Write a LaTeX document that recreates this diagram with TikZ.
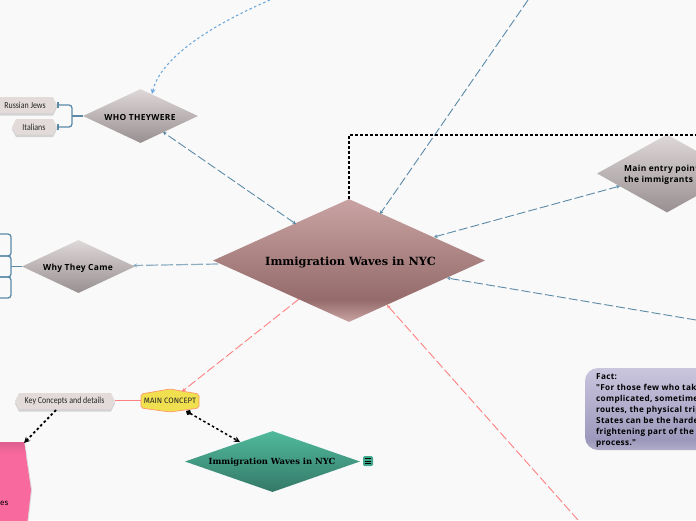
\documentclass[tikz,border=0pt]{standalone}
\usepackage{fontspec}
\setmainfont{Fira Sans}
\newfontfamily\slabfont{DejaVu Serif}
\newfontfamily\narrowfont{Carlito}[FakeStretch=0.86]
\newfontfamily\roundfont{Open Sans}[LetterSpace=4]
\usetikzlibrary{shapes.geometric,arrows.meta,shadows,calc}
\definecolor{bgc}{HTML}{F9F9F9}
\definecolor{linkblue}{HTML}{5B8AA8}
\definecolor{linkred}{HTML}{FF8080}
\definecolor{skyline}{HTML}{6FA8DC}
\definecolor{tagfill}{HTML}{E3DADA}
\definecolor{graytop}{HTML}{DFD8D8}
\definecolor{graybot}{HTML}{989090}
\definecolor{mainlt}{HTML}{C9A3A3}
\definecolor{maindk}{HTML}{956B6B}
\definecolor{factlt}{HTML}{CAC6DE}
\definecolor{factdk}{HTML}{9C98BC}
\definecolor{factbt}{HTML}{B0ACC8}
\pgfdeclareverticalshading{mainsh}{100bp}{color(0bp)=(mainlt);color(25bp)=(mainlt);color(34bp)=(maindk);color(75bp)=(mainlt);color(100bp)=(mainlt)}
\pgfdeclareverticalshading{factsh}{100bp}{color(0bp)=(factbt);color(25bp)=(factbt);color(31bp)=(factdk);color(75bp)=(factlt);color(100bp)=(factlt)}
\tikzset{
  x=1pt,y=-1pt,
  graydia/.style={diamond,aspect=2.1,inner sep=0pt,top color=graytop,bottom color=graybot},
  difont/.style={font=\roundfont\bfseries\fontsize{8.4}{11}\selectfont,inner sep=0pt},
  bluelink/.style={draw=linkblue,line width=.9pt,dash pattern=on 9pt off 3pt,-{Stealth[length=3.5pt,width=3.5pt]}},
  redlink/.style={draw=linkred,line width=.9pt,dash pattern=on 9pt off 3pt,-{Stealth[length=3.5pt,width=3.5pt]}},
  blackdot/.style={draw=black,line width=1.8pt,dash pattern=on 2.5pt off 2.5pt},
  bracket/.style={draw=linkblue,line width=1.3pt,rounded corners=3pt},
  tagshadow/.style={drop shadow={shadow xshift=0pt,shadow yshift=-2.5pt,fill=black,opacity=.15}},
  taglabel/.style={font=\narrowfont\fontsize{9.2}{11}\selectfont,text=black!85,inner sep=0pt},
}
\begin{document}
\begin{tikzpicture}
\useasboundingbox (0,0) rectangle (696,520);
\fill[bgc] (0,0) rectangle (696,520);
\clip (0,0) rectangle (696,520);

% free ends
\coordinate (skystart) at (270,0);
\coordinate (skyend) at (152,94);
\coordinate (topend) at (528,0);
\coordinate (rightend) at (696,320);
\coordinate (redend) at (578,520);
\coordinate (dotend) at (696,135);
\coordinate (dotcorner) at (349,135);
\coordinate (mainnw) at (296,224);
\coordinate (mainne) at (380,214);
\coordinate (mainene) at (434,237);
\coordinate (mainese) at (447,278);
\coordinate (mainsw) at (299,299);
\coordinate (mainse) at (387,305);
\coordinate (mainw) at (218,264);
\coordinate (whose) at (163,132);
\coordinate (whyee) at (133,265.5);
\coordinate (entrysw) at (620,186);

% pink block
\fill[color={rgb,255:red,248;green,105;blue,157},drop shadow={shadow xshift=1pt,shadow yshift=0pt,fill=black,opacity=.12}] (-5,442) -- (24,442) -- (31,490) -- (27,525) -- (-5,525) -- cycle;
\shade[top color={rgb,255:red,222;green,96;blue,144},bottom color={rgb,255:red,248;green,105;blue,157}] (-5,442) -- (24,442) -- (25.7,454) -- (-5,454) -- cycle;
\coordinate (pinktop) at (24,443);
\node[font=\fontsize{8}{10}\selectfont,text=black,inner sep=0pt,anchor=west] (pinktext) at (0,503) {es};

% diamonds
\node[diamond,aspect=2.2,inner sep=0pt,minimum width=272pt,minimum height=123pt,shading=mainsh] (main) at (349,260.5) {};
\node[font=\slabfont\bfseries\fontsize{11.3}{13}\selectfont,inner sep=0pt] (maintext) at (350.5,262) {Immigration Waves in NYC};

\node[graydia,minimum width=115pt,minimum height=54pt] (who) at (140.5,116) {};
\node[difont] (whotext) at (140,117) {WHO THEYWERE};

\node[graydia,minimum width=113pt,minimum height=53pt] (why) at (78.5,266.5) {};
\node[difont] (whytext) at (78,268) {Why They Came};

\node[graydia,aspect=1.8,minimum width=140pt,minimum height=78pt] (entry) at (667,173.5) {};
\node[difont,align=left,anchor=west] (entrytext) at (624,174.5) {Main entry point\\the immigrants};

\node[diamond,aspect=2.8,inner sep=0pt,minimum width=175pt,minimum height=61pt,top color={rgb,255:red,80;green,186;blue,156},bottom color={rgb,255:red,52;green,120;blue,104}] (green) at (272.5,461.5) {};
\coordinate (greennw) at (240,442);
\node[font=\slabfont\bfseries\fontsize{8.4}{10}\selectfont,inner sep=0pt] (greentext) at (272,462) {Immigration Waves in NYC};

% note icon
\node[rounded corners=1.5pt,fill={rgb,255:red,64;green,168;blue,140},minimum size=10pt,inner sep=0pt] (icon) at (368,461) {};
\draw[black,line width=.7pt] (icon.center) ++(-3,-2.5) -- ++(6,0) ++(-6,2.5) -- ++(6,0) ++(-6,2.5) -- ++(6,0);

% main concept
\filldraw[draw=linkred!80!yellow,line width=.7pt,fill={rgb,255:red,240;green,224;blue,80},rounded corners=2pt] (141,394) -- (170,389) -- (199,394) -- (199,408) -- (170,412) -- (141,408) -- cycle;
\coordinate (conceptw) at (141,400.5);
\coordinate (concepte) at (186,411);
\coordinate (conceptn) at (182,391.5);
\node[font=\fontsize{7.8}{9}\selectfont,inner sep=0pt,text=black!85] (concept) at (170,400.5) {MAIN CONCEPT};

% tags
\fill[tagfill,tagshadow] (15,401) -- (19,393) -- (111,393) -- (115,401) -- (111,409) -- (19,409) -- cycle;
\coordinate (keye) at (115,400.5);
\coordinate (keys) at (56,410);
\node[taglabel] (key) at (64.5,401.5) {Key Concepts and details};
\fill[tagfill,tagshadow] (-6,105) -- (-2,97) -- (53,97) -- (57,105) -- (53,113) -- (-2,113) -- cycle;
\node[taglabel] (russian) at (25,105.5) {Russian Jews};
\fill[tagfill,tagshadow] (12,127) -- (16,119) -- (53,119) -- (57,127) -- (53,134.5) -- (16,134.5) -- cycle;
\node[taglabel] (italians) at (34,127.5) {Italians};

% fact
\shade[shading=factsh,rounded corners=13pt] (585,368) rectangle (720,450);
\node[font=\roundfont\bfseries\fontsize{8.2}{11}\selectfont,inner sep=0pt,align=left,anchor=north west] (fact) at (596,373) {Fact:\\"For those few who take\\complicated, sometimes\\routes, the physical trip\\States can be the hardest\\frightening part of the\\process."};

% connectors
\draw[draw=skyline,line width=1.1pt,dash pattern=on 2.5pt off 2.5pt,-{Stealth[length=5pt,width=5pt,open]}] (skystart) .. controls (205,28) and (160,60) .. (skyend);
\draw[bluelink,{Stealth[length=3.5pt,width=3.5pt]}-{Stealth[length=3.5pt,width=3.5pt]}] (mainnw) -- (whose);
\draw[bluelink] (topend) -- (mainne);
\draw[bluelink,{Stealth[length=3.5pt,width=3.5pt]}-{Stealth[length=3.5pt,width=3.5pt]}] (entrysw) -- (mainene);
\draw[bluelink] (rightend) -- (mainese);
\draw[draw=linkblue!70,line width=1.2pt,dash pattern=on 12pt off 3pt,-{Stealth[length=4pt,width=4pt]}] (mainw) -- (whyee);
\draw[redlink] (mainsw) -- (conceptn);
\draw[redlink] (redend) -- (mainse);
\draw[blackdot] (main.north) -- (dotcorner) -- (dotend);
\draw[draw=linkred,line width=1pt] (keye) -- (conceptw);
\draw[blackdot,-{Stealth[length=6pt,width=6pt]}] (keys) -- (pinktop);
\draw[draw=black,line width=1.5pt,dash pattern=on 2.5pt off 2.5pt,{Diamond[length=6pt,width=6pt]}-{Stealth[length=6pt,width=6pt,open]}] (concepte) -- (greennw);

% brackets
\draw[bracket] (who.west) -- (72,116);
\draw[bracket] (58,105) -- (72,105) -- (72,127) -- (58,127);
\draw[draw=linkblue,line width=1.1pt] (58,102) -- (58,108) (58,124) -- (58,130);
\draw[bracket] (why.west) -- (11,266.5);
\draw[bracket] (-2,234) -- (11,234) -- (11,256) -- (-2,256);
\draw[bracket] (-2,256) -- (11,256) -- (11,277) -- (-2,277);
\draw[bracket] (-2,277) -- (11,277) -- (11,298) -- (-2,298);
\end{tikzpicture}
\end{document}
